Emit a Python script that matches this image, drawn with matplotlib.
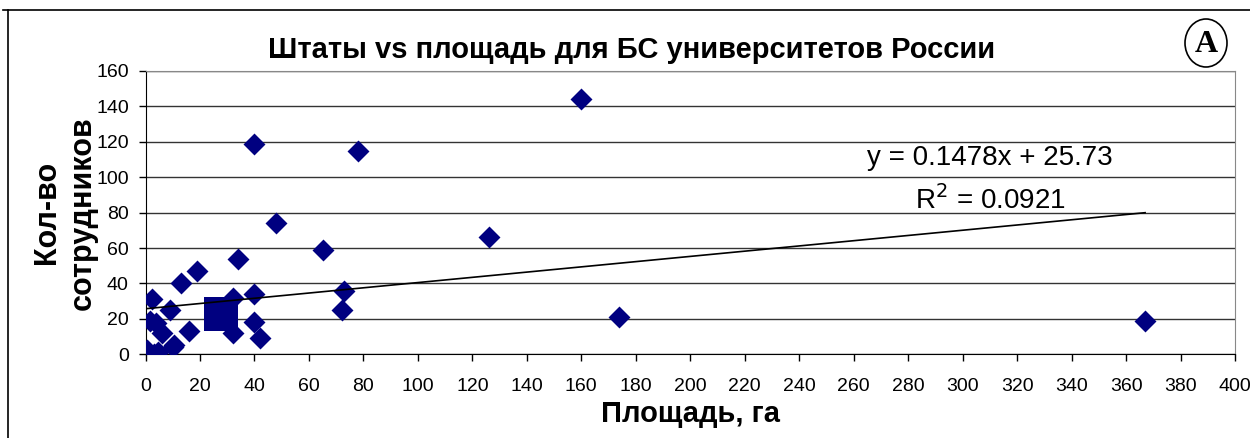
import matplotlib
matplotlib.use("Agg")
import matplotlib.pyplot as plt
from matplotlib.patches import Ellipse
from matplotlib.lines import Line2D

plt.rcParams['font.family'] = ['Liberation Sans', 'DejaVu Sans']

# площадь, га / кол-во сотрудников
area = [160, 40, 78, 48, 126, 65, 34, 174, 367,
        2.5, 9, 13, 19, 32, 40, 73, 72, 40, 32, 42, 16, 10,
        4, 6, 0.5, 3, 1.5, 4.5, 10.5]
staff = [144, 119, 115, 74, 66, 59, 54, 21, 19,
         31, 25, 40, 47, 32, 34, 36, 25, 18, 12, 9, 13, 4,
         17.5, 12, 2.5, 0, 19, 1.5, 5]

# выделенная точка
highlight_area = [27.6]
highlight_staff = [23]

# линия тренда (из подписи на графике)
slope = 0.1478
intercept = 25.73
r2 = 0.0921

navy = '#000080'

fig = plt.figure(figsize=(12.5, 4.38), dpi=100)
ax = fig.add_axes([0.1164, 0.1911, 0.988 - 0.1164, 0.8379 - 0.1911])

ax.scatter(area, staff, marker='D', s=125, color=navy, linewidths=0, zorder=3)
ax.scatter(highlight_area, highlight_staff, marker='s', s=570, color=navy, linewidths=0, zorder=3)

x0, x1 = min(area), max(area)
ax.plot([x0, x1], [slope * x0 + intercept, slope * x1 + intercept], color='black', lw=1.2, zorder=4)

ax.text(310, 111, 'y = %.4fx + %.2f' % (slope, intercept), fontsize=20, ha='center', va='center')
ax.text(310, 87, 'R$^2$ = %.4f' % r2, fontsize=20, ha='center', va='center')

ax.set_xlim(0, 400)
ax.set_ylim(0, 160)
ax.set_xticks(range(0, 401, 20))
ax.set_yticks(range(0, 161, 20))
ax.grid(axis='y', color='#333333', lw=1)
ax.set_axisbelow(True)
ax.tick_params(direction='out', length=5, width=1, labelsize=14)
ax.tick_params(axis='x', pad=12)
ax.tick_params(axis='y', pad=7)

for s in ['top', 'right']:
    ax.spines[s].set_color('#888888')
for s in ['left', 'bottom']:
    ax.spines[s].set_color('black')

ax.set_xlabel('Площадь, га', fontsize=21, fontweight='bold', labelpad=4)
ax.set_ylabel('Кол-во\nсотрудников', fontsize=22, fontweight='bold', labelpad=-1, linespacing=1.25)
fig.text(0.505, 0.885, 'Штаты vs площадь для БС университетов России',
         fontsize=21, fontweight='bold', ha='center', va='center')

# буква в кружке
fig.patches.append(Ellipse((1206 / 1250, 1 - 43 / 438), 42 / 1250, 48 / 438, transform=fig.transFigure,
                           fill=False, edgecolor='black', lw=1.2))
fig.text(1206 / 1250, 1 - 44 / 438, 'A', fontsize=23, fontweight='bold', family='Liberation Serif',
         ha='center', va='center')

# рамка
fig.add_artist(Line2D([0.0025, 1.0], [0.977, 0.977], transform=fig.transFigure, color='black', lw=1.2))
fig.add_artist(Line2D([0.0065, 0.0065], [0.0, 0.977], transform=fig.transFigure, color='black', lw=1.2))

fig.savefig('out.png', dpi=100)
